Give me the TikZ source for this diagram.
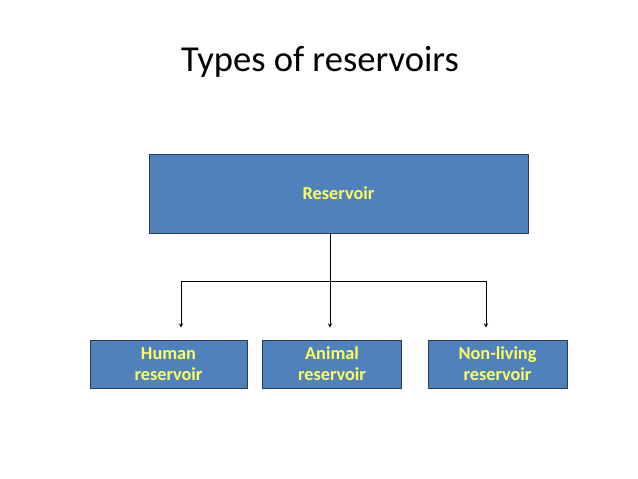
\documentclass[tikz,border=0pt]{standalone}
\usepackage{fontspec}
\setmainfont{Carlito}
\usepackage{tikz}
\definecolor{boxblue}{RGB}{79,129,189}
\definecolor{boxedge}{RGB}{40,60,90}
\definecolor{labelyellow}{RGB}{255,255,90}

\begin{document}
\begin{tikzpicture}[x = 0.025cm, y = -0.025cm,
  resbox/.style = {draw = boxedge, fill = boxblue, line width = 0.6pt, inner sep = 0pt,
    font = \fontsize{13}{15}\selectfont\bfseries, text = labelyellow, align = center}]
\useasboundingbox (0,0) rectangle (638,479);
\node (title) at (320,62) {\fontsize{26}{30}\selectfont Types of reservoirs};
\node [resbox, minimum width = 379*0.025cm, minimum height = 79*0.025cm] (res) at (338.5,193.5) {Reservoir};
\node [resbox, minimum width = 157*0.025cm, minimum height = 48*0.025cm] (human) at (168.5,364) {Human\\reservoir};
\node [resbox, minimum width = 139*0.025cm, minimum height = 48*0.025cm] (animal) at (332,364) {Animal\\reservoir};
\node [resbox, minimum width = 139*0.025cm, minimum height = 48*0.025cm] (nonliving) at (497.5,364) {Non-living\\reservoir};
\coordinate (split) at (330,281);
\coordinate (lefttop) at (181,281);
\coordinate (righttop) at (486,281);
\draw (res.south -| split) -- (split);
\draw (lefttop) -- (righttop);
\draw [-stealth, shorten >= 0.3cm] (lefttop) -- (lefttop |- human.north);
\draw [-stealth, shorten >= 0.3cm] (split) -- (split |- animal.north);
\draw [-stealth, shorten >= 0.3cm] (righttop) -- (righttop |- nonliving.north);
\end{tikzpicture}
\end{document}
